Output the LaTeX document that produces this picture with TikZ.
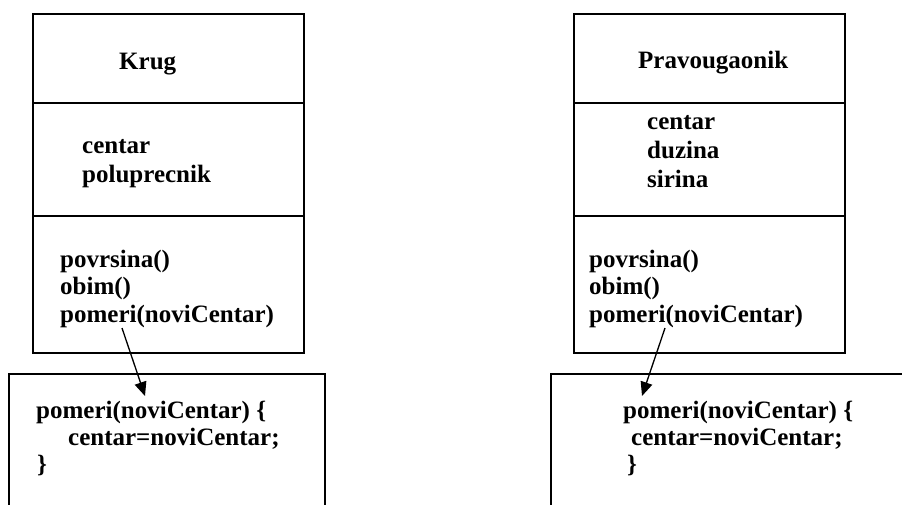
\documentclass[tikz,border=0pt]{standalone}
\usepackage{fontspec}
\setmainfont{Liberation Serif}
\usetikzlibrary{arrows.meta}
\begin{document}
\begin{tikzpicture}[x=1pt,y=-1pt,
  classbox/.style={draw=black,line width=2pt,inner sep=0pt,anchor=north west},
  divider/.style={draw=black,line width=2pt},
  codeframe/.style={draw=black,line width=1.6pt},
  txt/.style={inner sep=0pt,anchor=base west,font=\bfseries\fontsize{25}{29}\selectfont},
  call/.style={line width=1.3pt,-{Triangle[length=14pt,width=12pt]}}]
\useasboundingbox (0,0) rectangle (902,504);
\clip (0,0) rectangle (902,504);

% ---- class Krug ----
\node[classbox,minimum width=271pt,minimum height=339pt] (krug) at (32,13) {};
\draw[divider] (32,103) -- (303,103);
\draw[divider] (32,216) -- (303,216);
\node[txt] (krugName) at (119,69) {Krug};
\node[txt] (krugA1) at (82,153) {centar};
\node[txt] (krugA2) at (82,182) {poluprecnik};
\node[txt] (krugM1) at (60,267) {povrsina()};
\node[txt] (krugM2) at (60,294) {obim()};
\node[txt] (krugM3) at (60,322) {pomeri(noviCentar)};

% ---- class Pravougaonik ----
\node[classbox,minimum width=271pt,minimum height=339pt] (prav) at (573,13) {};
\draw[divider] (573,103) -- (844,103);
\draw[divider] (573,216) -- (844,216);
\node[txt] (pravName) at (638,68) {Pravougaonik};
\node[txt] (pravA1) at (647,129) {centar};
\node[txt] (pravA2) at (647,158) {duzina};
\node[txt] (pravA3) at (647,187) {sirina};
\node[txt] (pravM1) at (589,267) {povrsina()};
\node[txt] (pravM2) at (589,294) {obim()};
\node[txt] (pravM3) at (589,322) {pomeri(noviCentar)};

% ---- method bodies (frames run past the page edge) ----
\draw[codeframe] (9,520) -- (9,374) -- (325,374) -- (325,520);
\node[txt] (krugB1) at (36,418) {pomeri(noviCentar) \{};
\node[txt] (krugB2) at (68,445) {centar=noviCentar;};
\node[txt] (krugB3) at (37,472) {\}};

\draw[codeframe] (551,520) -- (551,374) -- (920,374);
\node[txt] (pravB1) at (623,418) {pomeri(noviCentar) \{};
\node[txt] (pravB2) at (631,445) {centar=noviCentar;};
\node[txt] (pravB3) at (627,472) {\}};

% ---- calls into the bodies ----
\coordinate (krugFrom) at (122,328);
\coordinate (krugTo) at (145,396);
\draw[call] (krugFrom) -- (krugTo);
\coordinate (pravFrom) at (665,328);
\coordinate (pravTo) at (642,396);
\draw[call] (pravFrom) -- (pravTo);
\end{tikzpicture}
\end{document}
